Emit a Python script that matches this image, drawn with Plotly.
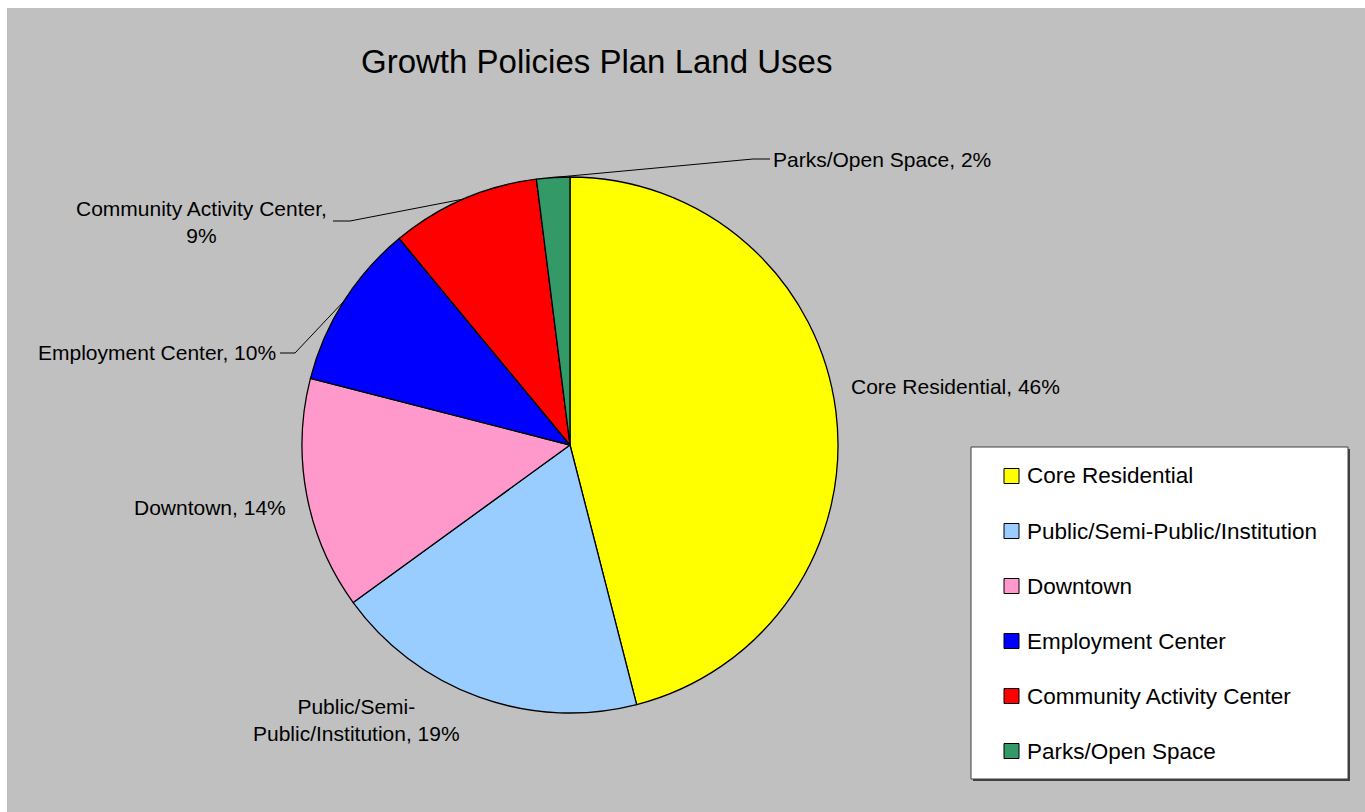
import math
import plotly.graph_objects as go

# ---------------- data ----------------
categories = ["Core Residential", "Public/Semi-Public/Institution", "Downtown",
              "Employment Center", "Community Activity Center", "Parks/Open Space"]
values = [46, 19, 14, 10, 9, 2]
colors = ["#FFFF00", "#99CCFF", "#FF99CC", "#0000FF", "#FF0000", "#339966"]
title_text = "Growth Policies Plan Land Uses"

# ---------------- layout constants (pixels) ----------------
W, H = 1365, 812
CX, CY, R = 570, 445, 268
FONT = "Liberation Sans, Arial, sans-serif"

def px(x):
    return x / W

def py(y):
    return 1 - y / H

# label placement: anchor position, anchors, optional leader-line elbow points, wrap point
label_spec = {
    "Core Residential": dict(x=849, y=387, xa="left"),
    "Public/Semi-Public/Institution": dict(x=356, y=720, xa="center", brk="Semi-"),
    "Downtown": dict(x=288, y=507, xa="right"),
    "Employment Center": dict(x=278, y=353, xa="right", leader=[(295, 353), (280, 353)]),
    "Community Activity Center": dict(x=201, y=222, xa="center", brk="Center, ",
                                      leader=[(350, 221), (333, 221)]),
    "Parks/Open Space": dict(x=771, y=160, xa="left", leader=[(753, 159), (770, 159)]),
}

fig = go.Figure()
fig.add_trace(go.Pie(
    labels=categories, values=values, sort=False, direction="clockwise", rotation=0,
    marker=dict(colors=colors, line=dict(color="#000000", width=1.3)),
    textinfo="none", hoverinfo="label+percent", showlegend=False,
    domain=dict(x=[px(CX - R), px(CX + R)], y=[py(CY + R), py(CY - R)]),
))

shapes = []
annotations = []

# white strips at top/left (outside the grey chart area)
shapes.append(dict(type="rect", xref="paper", yref="paper", x0=0, x1=px(7), y0=0, y1=1,
                   fillcolor="white", line=dict(width=0), layer="below"))
shapes.append(dict(type="rect", xref="paper", yref="paper", x0=0, x1=1, y0=py(8), y1=1,
                   fillcolor="white", line=dict(width=0), layer="below"))

# title
annotations.append(dict(text=title_text, x=px(596), y=py(62), xref="paper", yref="paper",
                        xanchor="center", yanchor="middle", showarrow=False,
                        font=dict(family=FONT, size=33, color="#000000")))

# data labels + leader lines
total = sum(values)
cum = 0
for cat, v in zip(categories, values):
    theta = math.radians((cum + v / 2) / total * 360)
    cum += v
    spec = label_spec[cat]
    pct = round(v / total * 100)
    text = f"{cat}, {pct}%"
    if "brk" in spec:
        text = text.replace(spec["brk"], spec["brk"].rstrip() + "<br>", 1)
    annotations.append(dict(text=text, x=px(spec["x"]), y=py(spec["y"]), xref="paper",
                            yref="paper", xanchor=spec["xa"], yanchor="middle",
                            align="center", showarrow=False,
                            font=dict(family=FONT, size=21, color="#000000")))
    if "leader" in spec:
        sx = CX + R * math.sin(theta)
        sy = CY - R * math.cos(theta)
        pts = [(sx, sy)] + spec["leader"]
        path = "M " + " L ".join(f"{px(a)},{py(b)}" for a, b in pts)
        shapes.append(dict(type="path", xref="paper", yref="paper", path=path,
                           line=dict(color="#000000", width=1)))

# legend (drawn manually)
LX0, LY0, LX1, LY1 = 971, 447, 1348, 779
shapes.append(dict(type="rect", xref="paper", yref="paper",
                   x0=px(LX0 + 2), x1=px(LX1 + 2), y0=py(LY1 + 2), y1=py(LY0 + 2),
                   fillcolor="#404040", line=dict(width=0)))
shapes.append(dict(type="rect", xref="paper", yref="paper",
                   x0=px(LX0), x1=px(LX1), y0=py(LY1), y1=py(LY0),
                   fillcolor="#FFFFFF", line=dict(color="#404040", width=1)))
row0, step, sw = 476, 55, 15
for i, (cat, col) in enumerate(zip(categories, colors)):
    yc = row0 + i * step
    shapes.append(dict(type="rect", xref="paper", yref="paper",
                       x0=px(1004), x1=px(1004 + sw), y0=py(yc + sw / 2), y1=py(yc - sw / 2),
                       fillcolor=col, line=dict(color="#000000", width=1)))
    annotations.append(dict(text=cat, x=px(1025), y=py(yc), xref="paper", yref="paper",
                            xanchor="left", yanchor="middle", showarrow=False,
                            font=dict(family=FONT, size=22.5, color="#000000")))

fig.update_layout(
    width=W, height=H, margin=dict(l=0, r=0, t=0, b=0),
    paper_bgcolor="#C0C0C0", plot_bgcolor="#C0C0C0",
    shapes=shapes, annotations=annotations, showlegend=False,
)

fig.write_html("out.html")
